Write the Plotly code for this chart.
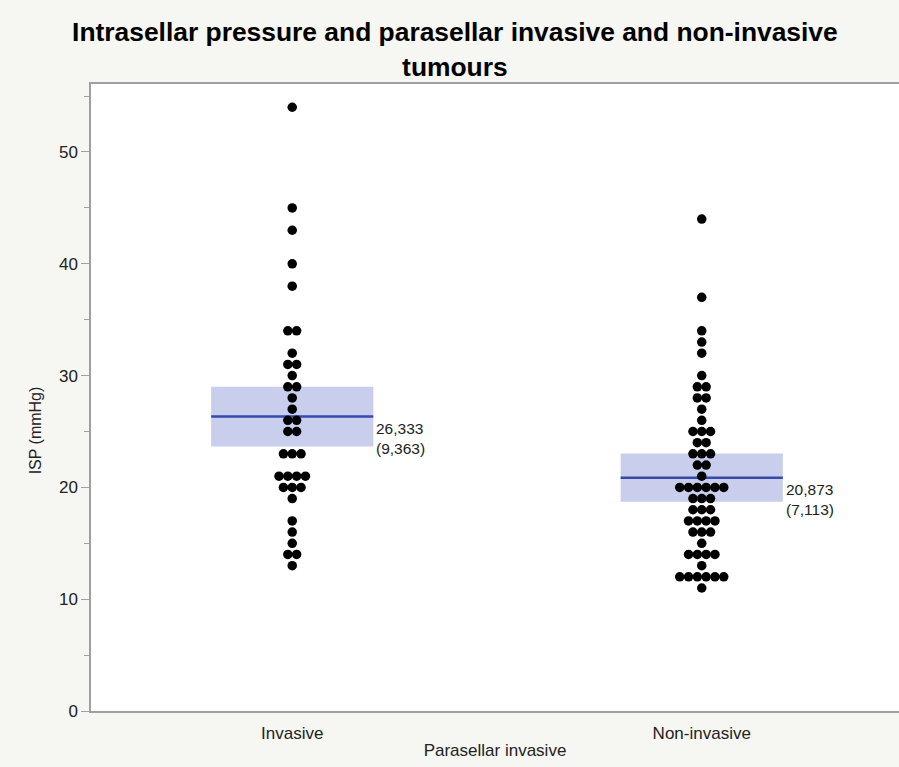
import numpy as np
import plotly.graph_objects as go
from collections import Counter

categories = ["Invasive", "Non-invasive"]

invasive = [54, 45, 43, 40, 38, 34, 34, 32, 31, 31, 30, 29, 29, 28, 27, 26, 26,
            25, 25, 23, 23, 23, 21, 21, 21, 21, 20, 20, 20, 19, 17, 16, 15, 14, 14, 13]
non_invasive = [44, 37, 34, 33, 32, 30, 29, 29, 28, 28, 27, 26, 25, 25, 25, 24, 24,
                23, 23, 23, 22, 22, 21, 20, 20, 20, 20, 20, 20, 19, 19, 19, 18, 18, 18,
                17, 17, 17, 17, 16, 16, 16, 15, 14, 14, 14, 14, 13, 12, 12, 12, 12, 12, 12, 11]
groups = [invasive, non_invasive]

mean_labels = ["26,333", "20,873"]
sd_labels = ["(9,363)", "(7,113)"]
t_crit = 1.987  # t(0.975, df=89)

# pooled-SD confidence box (JMP means & std dev display)
ns = [len(g) for g in groups]
means = [float(np.mean(g)) for g in groups]
ss = sum(((np.array(g) - np.mean(g)) ** 2).sum() for g in groups)
pooled_sd = np.sqrt(ss / (sum(ns) - len(groups)))
half = [t_crit * pooled_sd / np.sqrt(n) for n in ns]

fig = go.Figure()

spacing = 0.0215
box_half_w = 0.198

for i, g in enumerate(groups):
    lo, hi = means[i] - half[i], means[i] + half[i]
    fig.add_shape(type="rect", xref="x", yref="y", x0=i - box_half_w, x1=i + box_half_w,
                  y0=lo, y1=hi, fillcolor="rgb(200,206,236)", line=dict(width=0), layer="below")
    fig.add_shape(type="line", xref="x", yref="y", x0=i - box_half_w, x1=i + box_half_w,
                  y0=means[i], y1=means[i], line=dict(color="rgb(52,74,172)", width=2.5), layer="below")
    counts = Counter(g)
    xs, ys = [], []
    for v in sorted(counts):
        c = counts[v]
        for k in range(c):
            xs.append(i + (k - (c - 1) / 2) * spacing)
            ys.append(v)
    fig.add_trace(go.Scatter(x=xs, y=ys, mode="markers",
                             marker=dict(color="black", size=9.5, line=dict(width=0)),
                             hoverinfo="y", showlegend=False))
    fig.add_annotation(x=i + box_half_w, y=means[i], xref="x", yref="y",
                       text=mean_labels[i] + "<br>" + sd_labels[i], showarrow=False,
                       xanchor="left", yanchor="top", align="left", xshift=1, yshift=-1,
                       font=dict(family="Liberation Sans, Arial", size=15.5, color="#222"))

# y-axis title (sits slightly below the plot centre, as in the reference)
fig.add_annotation(x=0, y=25.1, xref="paper", yref="y", xshift=-56, text="ISP (mmHg)",
                   textangle=-90, showarrow=False, xanchor="center", yanchor="middle",
                   font=dict(family="Liberation Sans, Arial", size=16, color="#222"))

fig.update_layout(
    width=899, height=767,
    paper_bgcolor="#f6f6f2", plot_bgcolor="white",
    margin=dict(l=91, r=0, t=84, b=56),
    title=dict(text="<b>Intrasellar pressure and parasellar invasive and non-invasive<br>tumours</b>",
               x=0.506, xanchor="center", y=0.946, yanchor="top",
               font=dict(family="Liberation Sans", size=26.4, color="black")),
    font=dict(family="Liberation Sans, Arial", size=16, color="#222"),
)

fig.update_xaxes(range=[-0.4914, 1.4817], tickmode="array", tickvals=[0, 1], ticktext=categories,
                 showgrid=False, zeroline=False, showline=True, linecolor="#a0a0a0", linewidth=1.5,
                 mirror=True, ticks="", tickfont=dict(size=17, color="#222"), ticklabelstandoff=6,
                 title=dict(text="Parasellar invasive", font=dict(size=17, color="#222"), standoff=2))
fig.update_yaxes(range=[0, 56.08], tickmode="array", tickvals=[0, 10, 20, 30, 40, 50],
                 showgrid=False, zeroline=False, showline=True, linecolor="#a0a0a0", linewidth=1.5,
                 mirror=False, ticks="outside", ticklen=8, tickcolor="#a0a0a0",
                 minor=dict(tickvals=[5, 15, 25, 35, 45, 55], ticks="outside", ticklen=5, tickcolor="#a0a0a0"),
                 tickfont=dict(size=17, color="#222"))

fig.write_html("out.html", config={"displayModeBar": False},
               post_script="document.body.style.margin='0';document.body.style.background='#f6f6f2';")
